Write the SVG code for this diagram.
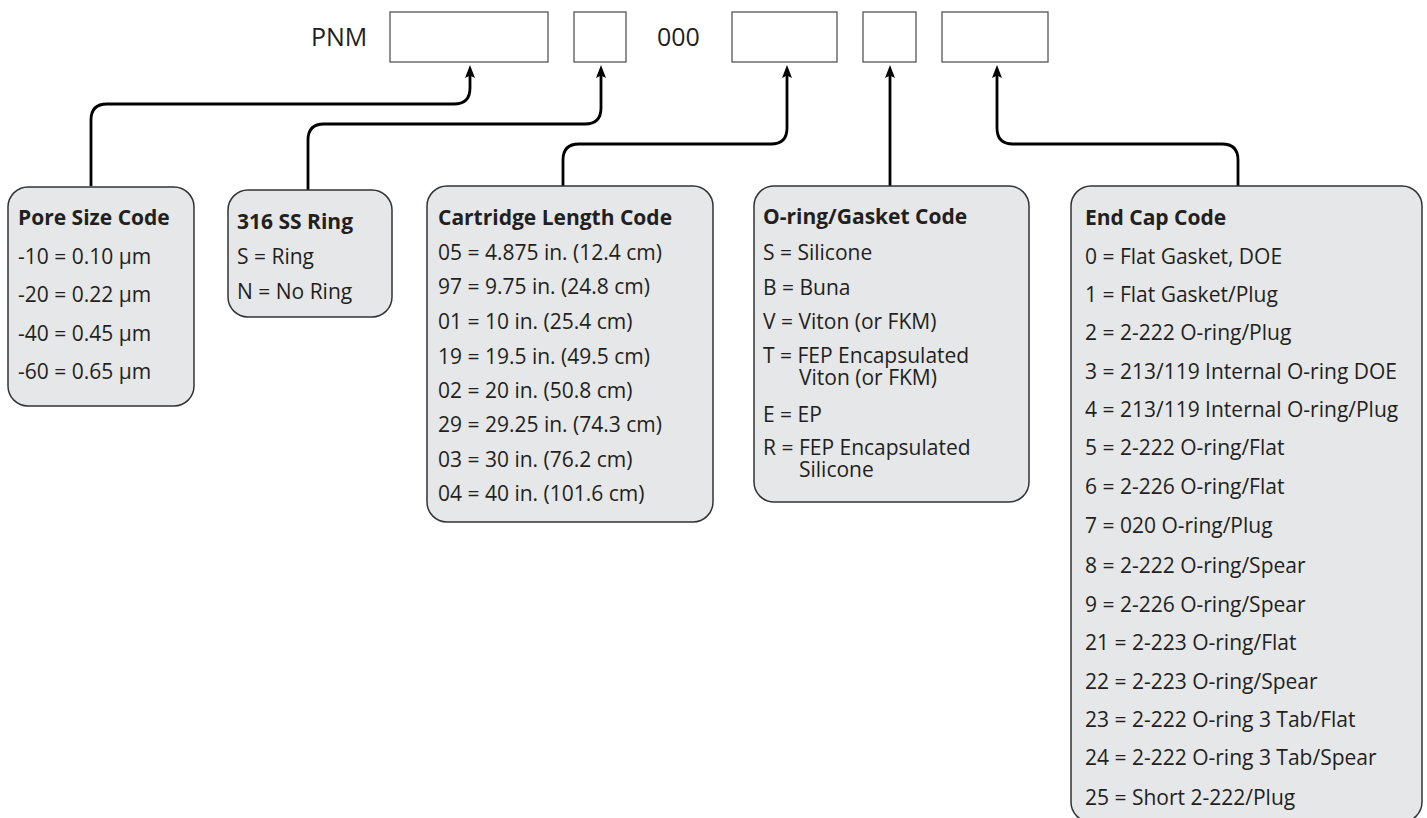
<svg xmlns="http://www.w3.org/2000/svg" width="1427" height="818" viewBox="0 0 1427 818">
<defs>
<style>
.slot{fill:#fff;stroke:#555;stroke-width:1.3}
.box{fill:#e6e7e8;stroke:#333;stroke-width:1.5}
.conn{fill:none;stroke:#000;stroke-width:2.8;stroke-linejoin:round}
text{font-family:"Open Sans","Liberation Sans",sans-serif;fill:#231f20}
.big{font-size:25px}
.t{font-size:21px}
.h{font-size:21px;font-weight:700}
</style>
<marker id="ah" viewBox="0 0 13 10" refX="4" refY="5" markerWidth="13" markerHeight="10" markerUnits="userSpaceOnUse" orient="auto">
<path d="M0,0 L13,5 L0,10 L2.5,5 Z" fill="#000"/>
</marker>
</defs>
<rect width="1427" height="818" fill="#fff"/>
<g id="header">
<text class="big" x="311" y="46">PNM</text>
<rect class="slot" x="390" y="12" width="158" height="50"/>
<rect class="slot" x="574" y="12" width="52" height="50"/>
<text class="big" x="657" y="46">000</text>
<rect class="slot" x="732" y="12" width="105" height="50"/>
<rect class="slot" x="863" y="12" width="53" height="50"/>
<rect class="slot" x="942" y="12" width="106" height="50"/>
</g>
<g id="connectors">
<path class="conn" marker-end="url(#ah)" d="M91,186 V120 Q91,104 107,104 H454 Q470,104 470,88 V74"/>
<path class="conn" marker-end="url(#ah)" d="M308,190 V140 Q308,124 324,124 H585 Q601,124 601,108 V74"/>
<path class="conn" marker-end="url(#ah)" d="M563,186 V160 Q563,144 579,144 H771 Q787,144 787,128 V74"/>
<path class="conn" marker-end="url(#ah)" d="M890,186 V74"/>
<path class="conn" marker-end="url(#ah)" d="M1238,186 V160 Q1238,144 1222,144 H1013 Q997,144 997,128 V74"/>
</g>
<g id="pore-size">
<rect class="box" x="8" y="187" width="186" height="219" rx="20"/>
<text class="h" x="18" y="225">Pore Size Code</text>
<text class="t" x="18" y="264">-10 = 0.10 µm</text>
<text class="t" x="18" y="302">-20 = 0.22 µm</text>
<text class="t" x="18" y="341">-40 = 0.45 µm</text>
<text class="t" x="18" y="379">-60 = 0.65 µm</text>
</g>
<g id="ss-ring">
<rect class="box" x="228" y="190" width="164" height="127" rx="20"/>
<text class="h" x="237" y="229">316 SS Ring</text>
<text class="t" x="237" y="264">S = Ring</text>
<text class="t" x="237" y="299">N = No Ring</text>
</g>
<g id="cartridge">
<rect class="box" x="427" y="186" width="286" height="336" rx="20"/>
<text class="h" x="438" y="225">Cartridge Length Code</text>
<text class="t" x="438" y="260">05 = 4.875 in. (12.4 cm)</text>
<text class="t" x="438" y="294">97 = 9.75 in. (24.8 cm)</text>
<text class="t" x="438" y="329">01 = 10 in. (25.4 cm)</text>
<text class="t" x="438" y="364">19 = 19.5 in. (49.5 cm)</text>
<text class="t" x="438" y="398">02 = 20 in. (50.8 cm)</text>
<text class="t" x="438" y="432">29 = 29.25 in. (74.3 cm)</text>
<text class="t" x="438" y="467">03 = 30 in. (76.2 cm)</text>
<text class="t" x="438" y="501">04 = 40 in. (101.6 cm)</text>
</g>
<g id="oring">
<rect class="box" x="754" y="186" width="275" height="316" rx="20"/>
<text class="h" x="763" y="224">O-ring/Gasket Code</text>
<text class="t" x="763" y="260">S = Silicone</text>
<text class="t" x="763" y="295">B = Buna</text>
<text class="t" x="763" y="329">V = Viton (or FKM)</text>
<text class="t" x="763" y="363">T = FEP Encapsulated<tspan x="799" y="385">Viton (or FKM)</tspan></text>
<text class="t" x="763" y="422">E = EP</text>
<text class="t" x="763" y="455">R = FEP Encapsulated<tspan x="799" y="477">Silicone</tspan></text>
</g>
<g id="end-cap">
<rect class="box" x="1071" y="186" width="351" height="636" rx="20"/>
<text class="h" x="1085" y="225">End Cap Code</text>
<text class="t" x="1085" y="264">0 = Flat Gasket, DOE</text>
<text class="t" x="1085" y="302">1 = Flat Gasket/Plug</text>
<text class="t" x="1085" y="340">2 = 2-222 O-ring/Plug</text>
<text class="t" x="1085" y="379">3 = 213/119 Internal O-ring DOE</text>
<text class="t" x="1085" y="417">4 = 213/119 Internal O-ring/Plug</text>
<text class="t" x="1085" y="455">5 = 2-222 O-ring/Flat</text>
<text class="t" x="1085" y="494">6 = 2-226 O-ring/Flat</text>
<text class="t" x="1085" y="533">7 = 020 O-ring/Plug</text>
<text class="t" x="1085" y="573">8 = 2-222 O-ring/Spear</text>
<text class="t" x="1085" y="612">9 = 2-226 O-ring/Spear</text>
<text class="t" x="1085" y="650">21 = 2-223 O-ring/Flat</text>
<text class="t" x="1085" y="689">22 = 2-223 O-ring/Spear</text>
<text class="t" x="1085" y="727">23 = 2-222 O-ring 3 Tab/Flat</text>
<text class="t" x="1085" y="765">24 = 2-222 O-ring 3 Tab/Spear</text>
<text class="t" x="1085" y="805">25 = Short 2-222/Plug</text>
</g>
</svg>
